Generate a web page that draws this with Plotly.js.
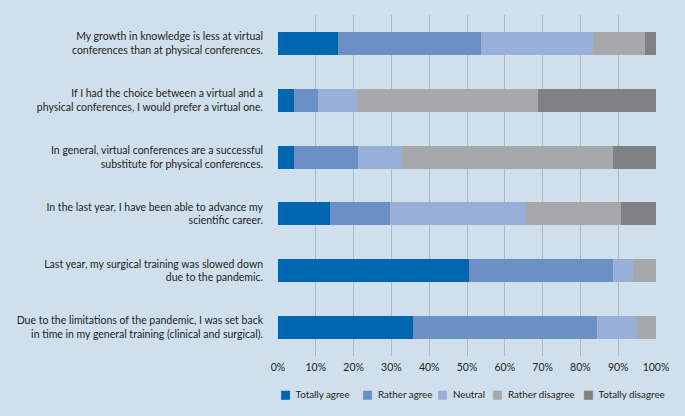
<!DOCTYPE html>
<html><head><meta charset="utf-8">
<script src="https://cdn.plot.ly/plotly-3.0.1.min.js"></script>
<style>html,body{margin:0;padding:0;background:#cfe0ec;}</style>
</head><body>
<div id="chart" style="width:685px;height:416px;"></div>
<script>
const statements = [
  "My growth in knowledge is less at virtual<br>conferences than at physical conferences.",
  "If I had the choice between a virtual and a<br>physical conferences, I would prefer a virtual one.",
  "In general, virtual conferences are a successful<br>substitute for physical conferences.",
  "In the last year, I have been able to advance my<br>scientific career.",
  "Last year, my surgical training was slowed down<br>due to the pandemic.",
  "Due to the limitations of the pandemic, I was set back<br>in time in my general training (clinical and surgical)."
];
const seriesNames = ["Totally agree","Rather agree","Neutral","Rather disagree","Totally disagree"];
const totallyAgree    = [16.0, 4.2, 4.2, 13.8, 50.6, 35.8];
const ratherAgree     = [37.7, 6.4, 17.0, 15.7, 38.0, 48.5];
const neutral         = [29.7, 10.6, 11.6, 36.0, 5.3, 10.7];
const ratherDisagree  = [13.7, 47.5, 55.8, 25.2, 6.1, 5.0];
const totallyDisagree = [2.9, 31.3, 11.4, 9.3, 0, 0];
const tickVals = [0,10,20,30,40,50,60,70,80,90,100];
const tickText = ["0%","10%","20%","30%","40%","50%","60%","70%","80%","90%","100%"];
const colors = ["#0066b0","#6b90c6","#97afd9","#a6a8ab","#808184"];

const values = [totallyAgree, ratherAgree, neutral, ratherDisagree, totallyDisagree];
const traces = values.map((v,i)=>({
  type:'bar', orientation:'h', name:seriesNames[i], x:v, y:statements,
  marker:{color:colors[i], line:{width:0}}, hoverinfo:'skip', showlegend:false
}));
const fam = 'Lato, "Open Sans", sans-serif';
const txtColor = '#231f20';
const fs = 10.5;

// legend built as annotations (one per series), positioned in paper coords
const legendX = [0, 0.217, 0.415, 0.561, 0.802];
const annotations = seriesNames.map((n,i)=>({
  xref:'paper', yref:'paper', x:legendX[i], y:-0.111, xanchor:'left', yanchor:'middle',
  showarrow:false, align:'left',
  text:'<span style="color:'+colors[i]+';font-size:11.5px;font-family:DejaVu Sans">■</span>&nbsp;&nbsp;'+n,
  font:{family:fam, size:9.8, color:txtColor}
}));

const layout = {
  width:685, height:416, barmode:'stack', bargap:0.595,
  paper_bgcolor:'#cfe0ec', plot_bgcolor:'#cfe0ec',
  margin:{l:278, r:29, t:15, b:60},
  font:{family:fam, size:fs, color:txtColor}, showlegend:false,
  annotations:annotations,
  xaxis:{range:[0,100], tickvals:tickVals, ticktext:tickText, showgrid:true,
         gridcolor:'#b4b9bf', gridwidth:1, zeroline:false, showline:false, ticks:'',
         ticklabelstandoff:3,
         tickfont:{family:fam, size:fs, color:txtColor}, fixedrange:true},
  yaxis:{categoryorder:'array', categoryarray:statements, autorange:'reversed',
         showgrid:false, zeroline:false, showline:false, ticks:'', ticklabelstandoff:14,
         tickfont:{family:fam, size:fs, color:txtColor}, fixedrange:true}
};
Plotly.newPlot('chart', traces, layout, {displayModeBar:false, staticPlot:true});
</script>
</body></html>
